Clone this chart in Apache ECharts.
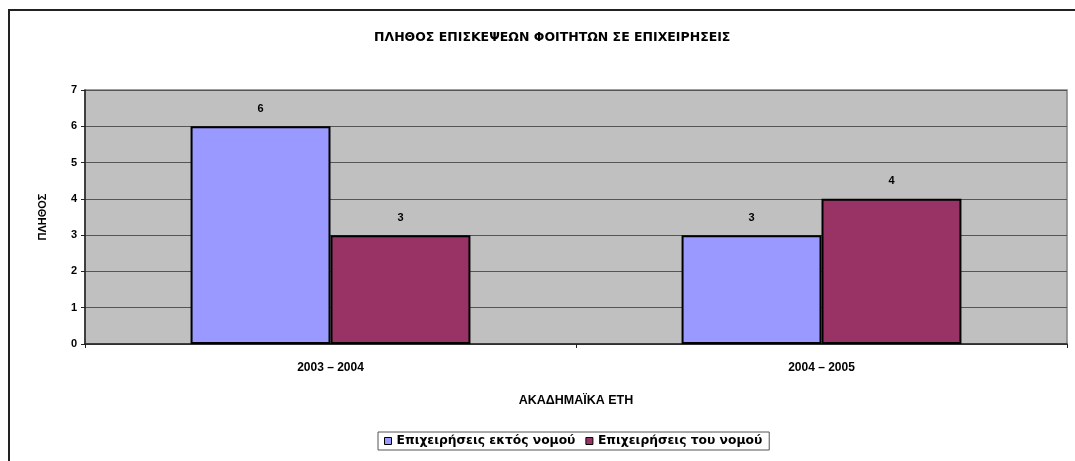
<!DOCTYPE html>
<html>
<head>
<meta charset="utf-8">
<script src="https://cdn.jsdelivr.net/npm/echarts@6/dist/echarts.min.js"></script>
<style>
  html, body { margin: 0; padding: 0; background: #fff; }
  #chart { width: 1075px; height: 461px; }
</style>
</head>
<body>
<div id="chart"></div>
<script>
// ακαδημαϊκά έτη
var years = ['2003 – 2004', '2004 – 2005'];
var seriesNames = ['Επιχειρήσεις εκτός νομού', 'Επιχειρήσεις του νομού'];
var outsideData = [6, 3];
var insideData = [3, 4];
var yTicks = [0, 1, 2, 3, 4, 5, 6, 7];

var font = 'DejaVu Sans, Liberation Sans, sans-serif';
var font2 = 'Liberation Sans, Arial, sans-serif';

var chart = echarts.init(document.getElementById('chart'));

var option = {
	backgroundColor: '#fff',
	animation: false,
	title: {
		text: 'ΠΛΗΘΟΣ ΕΠΙΣΚΕΨΕΩΝ ΦΟΙΤΗΤΩΝ ΣΕ ΕΠΙΧΕΙΡΗΣΕΙΣ',
		left: 369,
		top: 26,
		textStyle: { fontFamily: font, fontSize: 12.5, fontWeight: 'bold', color: '#000' }
	},
	legend: {
		data: seriesNames,
		left: 378,
		top: 432,
		padding: [3, 7, 3, 6],
		itemGap: 10,
		itemWidth: 7,
		itemHeight: 7,
		icon: 'rect',
		borderColor: '#555',
		borderWidth: 1,
		textStyle: { fontFamily: font, fontSize: 12.3, fontWeight: 'bold', color: '#000' },
		itemStyle: { borderColor: '#000', borderWidth: 1 }
	},
	grid: {
		left: 85,
		right: 8,
		top: 90,
		bottom: 117,
		show: true,
		backgroundColor: '#c0c0c0',
		borderColor: '#808080',
		borderWidth: 1.5
	},
	xAxis: {
		type: 'category',
		data: years,
		name: 'ΑΚΑΔΗΜΑΪΚΑ ΕΤΗ',
		nameLocation: 'middle',
		nameGap: 50,
		nameTextStyle: { fontFamily: font2, fontSize: 12.5, fontWeight: 'bold', color: '#000' },
		axisLine: { lineStyle: { color: '#222', width: 1.5 } },
		axisTick: { show: true, length: 4, lineStyle: { color: '#222' } },
		axisLabel: { margin: 18, fontFamily: font2, fontSize: 12, fontWeight: 'bold', color: '#000' }
	},
	yAxis: {
		type: 'value',
		min: yTicks[0],
		max: yTicks[yTicks.length - 1],
		interval: 1,
		name: 'ΠΛΗΘΟΣ',
		nameLocation: 'middle',
		nameRotate: 90,
		nameGap: 37,
		nameTextStyle: { fontFamily: font2, fontSize: 11, fontWeight: 'bold', color: '#000' },
		axisLine: { show: true, lineStyle: { color: '#222', width: 1.5 } },
		axisTick: { show: true, length: 4, lineStyle: { color: '#222' } },
		axisLabel: { margin: 8, fontFamily: font2, fontSize: 11, fontWeight: 'bold', color: '#000' },
		splitLine: { lineStyle: { color: '#555', width: 1.2 } }
	},
	series: [{
		name: seriesNames[0],
		type: 'bar',
		data: outsideData,
		barGap: '0%',
		barCategoryGap: '43%',
		itemStyle: { color: '#9999ff', borderColor: '#000', borderWidth: 2 },
		label: { show: true, position: 'top', distance: 12, fontFamily: font2, fontSize: 11, fontWeight: 'bold', color: '#000' }
	}, {
		name: seriesNames[1],
		type: 'bar',
		data: insideData,
		barGap: '0%',
		barCategoryGap: '43%',
		itemStyle: { color: '#993366', borderColor: '#000', borderWidth: 2 },
		label: { show: true, position: 'top', distance: 12, fontFamily: font2, fontSize: 11, fontWeight: 'bold', color: '#000' }
	}],
	graphic: [{
		// εξωτερικό πλαίσιο (πάνω και αριστερά μόνο)
		type: 'polyline',
		silent: true,
		shape: { points: [[9, 470], [9, 10], [1080, 10]] },
		style: { fill: 'none', stroke: '#222', lineWidth: 2 }
	}]
};

chart.setOption(option);
</script>
</body>
</html>
